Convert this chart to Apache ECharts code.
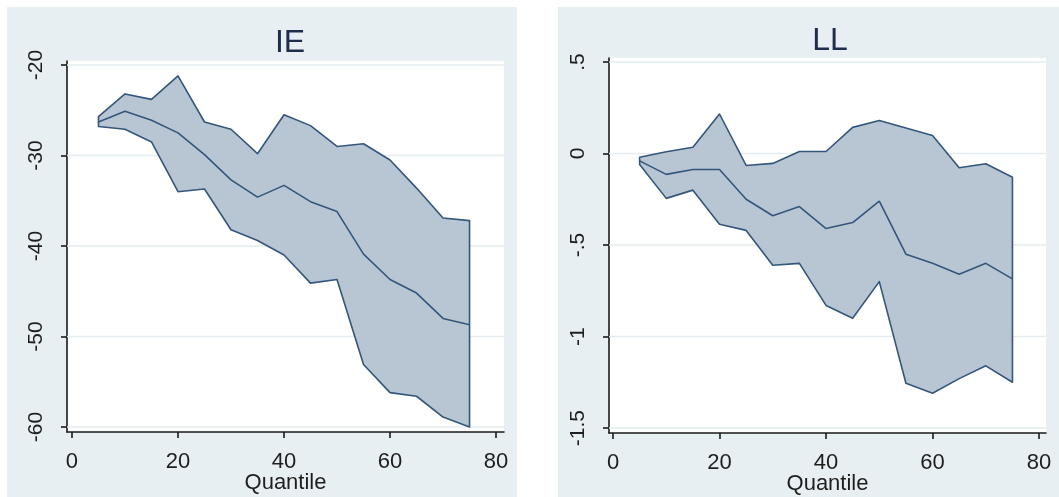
<!DOCTYPE html>
<html>
<head>
<meta charset="utf-8">
<script src="https://cdn.jsdelivr.net/npm/echarts@6/dist/echarts.min.js"></script>
<style>
html,body{margin:0;padding:0;background:#ffffff;}
#chart{width:1059px;height:497px;}
</style>
</head>
<body>
<div id="chart"></div>
<script>
// ---- data ----
const quantiles = [5, 10, 15, 20, 25, 30, 35, 40, 45, 50, 55, 60, 65, 70, 75];
const ieMid   = [-26.3, -25.1, -26.1, -27.5, -29.9, -32.7, -34.6, -33.3, -35.1, -36.2, -40.9, -43.7, -45.2, -48.0, -48.7];
const ieUpper = [-25.7, -23.2, -23.8, -21.2, -26.3, -27.1, -29.8, -25.5, -26.7, -29.0, -28.7, -30.5, -33.6, -36.9, -37.2];
const ieLower = [-26.8, -27.1, -28.5, -34.0, -33.7, -38.2, -39.4, -41.0, -44.1, -43.7, -53.1, -56.2, -56.6, -58.9, -60.0];
const llMid   = [-0.04, -0.114, -0.087, -0.087, -0.25, -0.34, -0.29, -0.41, -0.377, -0.26, -0.55, -0.60, -0.66, -0.60, -0.685];
const llUpper = [-0.02, 0.01, 0.034, 0.216, -0.065, -0.054, 0.011, 0.011, 0.143, 0.181, 0.14, 0.098, -0.078, -0.056, -0.13];
const llLower = [-0.06, -0.245, -0.20, -0.386, -0.42, -0.61, -0.60, -0.83, -0.90, -0.70, -1.255, -1.31, -1.23, -1.16, -1.25];
const xTicks  = [0, 20, 40, 60, 80];
const ieTicks = [-60, -50, -40, -30, -20];
const llTicks = [-1.5, -1, -0.5, 0, 0.5];
const titles  = ['IE', 'LL'];
const xName   = 'Quantile';

// ---- styles ----
const FONT = '"Liberation Sans", Arial, sans-serif';
const PANEL_BG = '#E8EFF2';
const FILL = '#B8C6D3';
const STROKE = '#34567B';
const GRID = '#E4ECEF';
const TEXT = '#1E1E1E';
const TITLE = '#1F2D4D';

function fmt(v){ return String(v).replace('0.', '.'); }

const panels = [
  {grid:{left:67, right:1059-504, top:61, bottom:497-432},
   xmin:-0.94, xmax:81.5, ymin:-60.55, ymax:-19.56, ticks:ieTicks,
   mid:ieMid, up:ieUpper, lo:ieLower, title:titles[0], tx:285, ty:38},
  {grid:{left:609, right:1059-1046, top:58, bottom:497-433},
   xmin:-0.75, xmax:81.3, ymin:-1.527, ymax:0.522, ticks:llTicks,
   mid:llMid, up:llUpper, lo:llLower, title:titles[1], tx:825, ty:36}
];

const option = {
  animation:false,
  backgroundColor:'#ffffff',
  graphic:[
    {type:'rect', shape:{x:7, y:7, width:510, height:490}, style:{fill:PANEL_BG}, z:-10, silent:true},
    {type:'rect', shape:{x:558, y:7, width:501, height:490}, style:{fill:PANEL_BG}, z:-10, silent:true}
  ],
  title: panels.map(p => ({
    text:p.title, left:p.tx, top:p.ty, textAlign:'center', textVerticalAlign:'middle',
    textStyle:{fontFamily:FONT, fontSize:32, fontWeight:'normal', color:TITLE}
  })),
  grid: panels.map(p => Object.assign({show:true, backgroundColor:'#ffffff', borderWidth:0,
                                       containLabel:false, outerBoundsMode:'none'}, p.grid)),
  xAxis: panels.map((p,i) => ({
    type:'value', gridIndex:i, min:p.xmin, max:p.xmax,
    name:xName, nameLocation:'middle', nameGap:40, nameMoveOverlap:false,
    nameTextStyle:{fontFamily:FONT, fontSize:22, color:TEXT},
    axisLine:{show:true, onZero:false, lineStyle:{color:'#1a1a1a', width:1.6}},
    axisTick:{show:true, length:6, customValues:xTicks, lineStyle:{color:'#1a1a1a', width:1.6}},
    axisLabel:{show:true, customValues:xTicks, margin:19, fontFamily:FONT, fontSize:22, color:TEXT},
    splitLine:{show:false}
  })),
  yAxis: panels.map((p,i) => ({
    type:'value', gridIndex:i, min:p.ymin, max:p.ymax,
    axisLine:{show:true, onZero:false, lineStyle:{color:'#1a1a1a', width:1.6}},
    axisTick:{show:true, length:6, customValues:p.ticks, lineStyle:{color:'#1a1a1a', width:1.6}},
    axisLabel:{show:true, customValues:p.ticks, rotate:90, margin:20, fontFamily:FONT, fontSize:21, color:TEXT,
               formatter:fmt},
    splitLine:{show:false}
  })),
  series: []
};

panels.forEach((p,i) => {
  // gridlines
  option.series.push({
    type:'custom', xAxisIndex:i, yAxisIndex:i, z:1, silent:true,
    data:p.ticks.map(v => [0, v]),
    renderItem:(params, api) => {
      const cs = params.coordSys;
      const y = api.coord([0, api.value(1)])[1];
      return {type:'line', shape:{x1:cs.x, y1:y, x2:cs.x+cs.width, y2:y},
              style:{stroke:GRID, lineWidth:1.5}};
    }
  });
  // confidence band polygon
  option.series.push({
    type:'custom', xAxisIndex:i, yAxisIndex:i, z:2, silent:true,
    data:quantiles.map((q,k) => [q, p.lo[k], p.up[k]]),
    encode:{x:0, y:[1,2]},
    renderItem:(params, api) => {
      if (params.dataIndex !== 0) return null;
      const pts = [];
      for (let k = 0; k < quantiles.length; k++) pts.push(api.coord([quantiles[k], p.up[k]]));
      for (let k = quantiles.length - 1; k >= 0; k--) pts.push(api.coord([quantiles[k], p.lo[k]]));
      return {type:'polygon', shape:{points:pts},
              style:{fill:FILL, stroke:STROKE, lineWidth:1.6, lineJoin:'round'}};
    }
  });
  // point estimate line
  option.series.push({
    type:'line', xAxisIndex:i, yAxisIndex:i, z:3, silent:true,
    data:quantiles.map((q,k) => [q, p.mid[k]]),
    showSymbol:false, symbol:'none',
    lineStyle:{color:STROKE, width:1.6}
  });
});

const chart = echarts.init(document.getElementById('chart'), null, {renderer:'canvas'});
chart.setOption(option);
</script>
</body>
</html>
